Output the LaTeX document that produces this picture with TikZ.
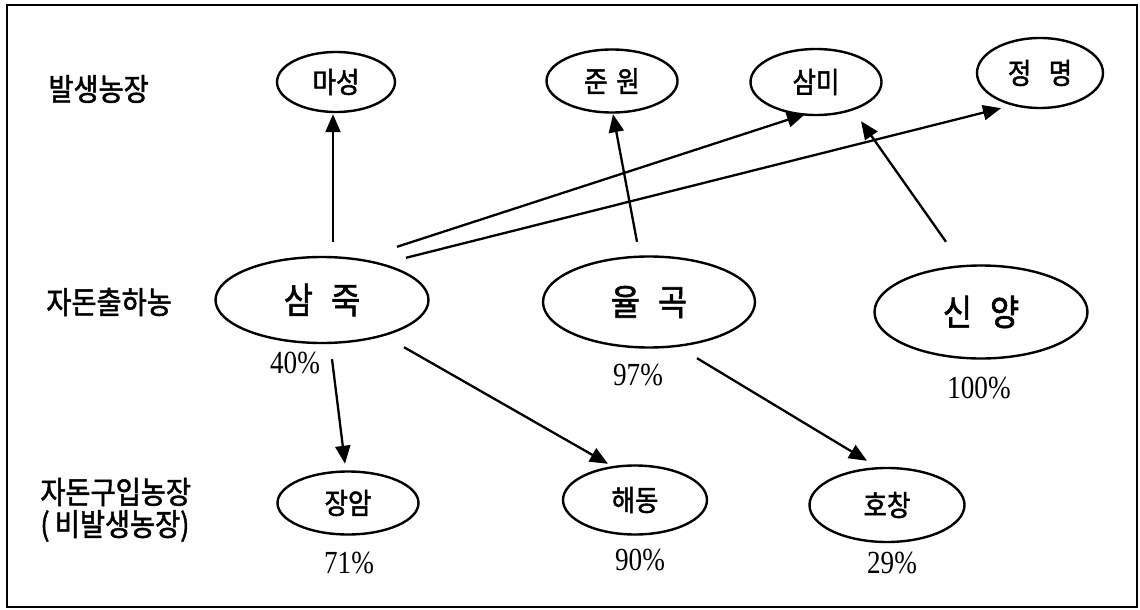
\documentclass[tikz,border=0pt]{standalone}
\usepackage{fontspec}
\setmainfont{Liberation Serif}
\newfontfamily\kr[FakeStretch=0.88,FakeBold=1.6]{Noto Sans CJK KR}
\usetikzlibrary{shapes.geometric,arrows.meta}
\tikzset{
  farm/.style={draw, ellipse, line width=1.2pt, inner sep=0pt, font=\kr\fontsize{14.5}{14.5}\selectfont},
  bigfarm/.style={farm, font=\kr\fontsize{18}{18}\selectfont},
  pct/.style={font=\fontsize{14}{14}\selectfont, inner sep=0pt},
  rowlabel/.style={anchor=west, inner sep=0pt, font=\kr\fontsize{15.5}{15.5}\selectfont},
  arr/.style={line width=1.15pt, -{Triangle[length=9pt,width=7.5pt]}},
}
\newcommand{\tallpct}[1]{\scalebox{0.97}[1.15]{#1}}
\begin{document}
\begin{tikzpicture}[x=0.5pt,y=-0.5pt]
\useasboundingbox (0,0) rectangle (1140,610);
\draw[line width=1.1pt] (7,5) rectangle (1137,607);
% row labels
\node[rowlabel] (l1) at (48,89) {발생농장};
\node[rowlabel] (l2) at (46,302) {자돈출하농};
\node[rowlabel] (l3) at (40,492) {자돈구입농장};
\node[rowlabel] (l4) at (40,526) {(\,비발생농장)};
% top row
\node[farm, minimum width=59pt, minimum height=30pt] (masung) at (336,82) {마성};
\node[farm, minimum width=65.5pt, minimum height=31.5pt] (junwon) at (612,81) {준\hspace{0.3em}원};
\node[farm, minimum width=65.5pt, minimum height=33pt] (sammi) at (816,82) {삼미};
\node[farm, minimum width=63pt, minimum height=35pt] (jm) at (1040,73) {정\hspace{0.6em}명};
% middle row
\node[bigfarm, minimum width=106.5pt, minimum height=43pt] (samjuk) at (322,300) {삼\hspace{0.5em}죽};
\node[bigfarm, minimum width=106pt, minimum height=45.5pt] (yulgok) at (649,302) {율\hspace{0.5em}곡};
\node[bigfarm, minimum width=106.5pt, minimum height=46.5pt] (sinyang) at (981,312) {신\hspace{0.5em}양};
% bottom row
\node[farm, minimum width=70.5pt, minimum height=31.5pt] (jangam) at (348,503) {장암};
\node[farm, minimum width=72pt, minimum height=34.5pt] (haedong) at (635,500) {해동};
\node[farm, minimum width=77.5pt, minimum height=37pt] (hochang) at (887,505) {호창};
% percentages
\node[pct] (p1) at (295,363) {\tallpct{40\%}};
\node[pct] (p2) at (638,375) {\tallpct{97\%}};
\node[pct] (p3) at (979,388) {\tallpct{100\%}};
\node[pct] (p4) at (349,563) {\tallpct{71\%}};
\node[pct] (p5) at (640,560) {\tallpct{90\%}};
\node[pct] (p6) at (892,563) {\tallpct{29\%}};
% arrows
\draw[arr] ([shift={(11,-14)}]samjuk.north) -- ([shift={(-3,1)}]masung.south);
\draw[arr] ([shift={(75,-9)}]samjuk.north) -- ([shift={(-11,-2)}]sammi.south);
\draw[arr] ([shift={(84,2)}]samjuk.north) -- ([shift={(-39,-1)}]jm.south);
\draw[arr] ([shift={(-12,-13.5)}]yulgok.north) -- ([shift={(1,0.5)}]junwon.south);
\draw[arr] ([shift={(-35,-22.5)}]sinyang.north) -- ([shift={(45,5)}]sammi.south);
\draw[arr] ([shift={(10,15)}]samjuk.south) -- ([shift={(-3,-6.5)}]jangam.north);
\draw[arr] ([shift={(82,3)}]samjuk.south) -- ([shift={(-27,-0.5)}]haedong.north);
\draw[arr] ([shift={(48,9.5)}]yulgok.south) -- ([shift={(-20,-6)}]hochang.north);
\end{tikzpicture}
\end{document}
